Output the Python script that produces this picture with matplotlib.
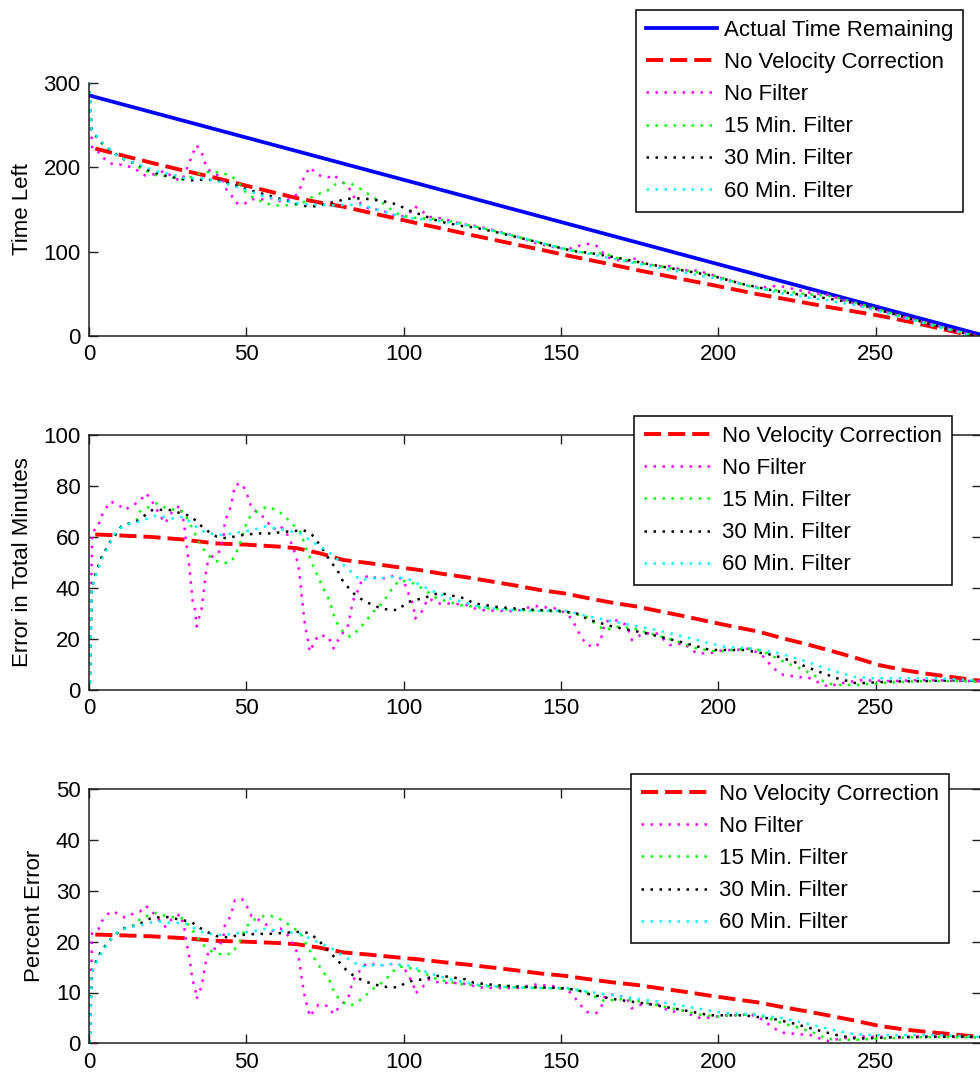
import numpy as np
import matplotlib
matplotlib.use("Agg")
import matplotlib.pyplot as plt

plt.rcParams["font.family"] = ["Liberation Sans", "DejaVu Sans"]

# ---- data -------------------------------------------------------------
# actual remaining trip time (minutes) against elapsed time (minutes)
actual_t = [0, 285]
actual_left = [285, 0]
trip_minutes = 285

# error of each estimator in minutes (actual minus estimated)
novel_t = [2, 10, 20, 30, 40, 50, 60.7, 66, 73.4, 80.8, 89.3, 96.7, 104.7, 112.6, 120,
           129.6, 135.9, 143.3, 151, 159, 166.4, 174.2, 182, 189.7, 197.1, 205, 212.7,
           220.4, 227.9, 235.7, 243.1, 251, 258.9, 266.7, 273.6, 281, 285]
novel_err = [61, 60.6, 60, 59, 57.5, 57, 56.2, 55.6, 53.6, 51, 49.7, 48.4, 47.1, 45.5, 44.2,
             42.2, 40.9, 39.2, 37.9, 35.9, 34.2, 32.7, 30.7, 28.8, 26.8, 24.8, 22.9,
             20.3, 18.0, 15.4, 12.8, 9.8, 7.8, 6.3, 5.2, 3.9, 3.6]

nofilt_t = [0, 1, 3, 3.5, 5.1, 6.7, 9, 11.4, 13.8, 16.2, 17.8, 19.2, 21, 22.8, 24.2, 26.1,
            29, 30.2, 31.1, 31.9, 32.9, 33.7, 34.2, 35.8, 36.5, 37.2, 37.7, 39.5, 41.1,
            42.7, 43.2, 44.5, 45.3, 46.4, 48.6, 49.6, 50.7, 51.7, 53.3, 55.9, 58.5, 60.7,
            62.8, 64, 65.5, 66.5, 67.1, 67.6, 68.2, 68.7, 69.8, 70.1, 72.9, 76.1, 77.7,
            79.8, 82.4, 83.5, 84.5, 85.6, 86.7, 88.8, 91.4, 94.6, 97.2, 99.9, 101.5, 103.1,
            103.6, 105.7, 107.8, 111.5, 115.8, 120, 123.7, 130, 136, 141.4, 148, 152,
            153.9, 155.5, 158.1, 161.3, 162.9, 164, 167.2, 170.9, 172.5, 176.2, 180.4,
            184.7, 188.9, 193.1, 197.4, 201.6, 205.9, 210.1, 214.3, 217.5, 220.7, 225,
            229.2, 232.4, 235, 238.7, 245, 255, 265, 275, 285]
nofilt_err = [-15, 62, 64, 67.3, 70.6, 73.9, 73, 70.6, 72.5, 73.9, 77.1, 75.8, 71.9, 68, 65.4, 69.3,
              72.5, 65.4, 55.5, 48.4, 35.3, 31.4, 24.9, 31.9, 39, 46.4, 49.9, 52.9, 53.5,
              59.3, 66.5, 69.8, 73.3, 80.4, 81, 78.4, 75.2, 71.2, 69.9, 67.3, 63, 64.5,
              61.5, 58.5, 53.6, 49, 43, 36.6, 30, 24.8, 18.3, 15, 21.6, 20.9, 16.3,
              20.9, 25.5, 32.7, 37.3, 39.2, 43.1, 45, 43.8, 43.8, 45, 43.1, 37.9, 33.3,
              28, 30.7, 35.9, 33.9, 33.9, 33.3, 31.4, 31, 31, 33, 32, 30,
              26.8, 22.9, 17.6, 17, 20.9, 26.8, 27.5, 25.5, 19.6, 22.2, 22.2,
              17.6, 18.3, 14.4, 14.4, 15.7, 15.7, 16.3, 13.1, 8.5, 5.9, 5.2,
              4.6, 2.6, 1.3, 2.6, 3.8, 3.5, 3.9, 3.6, 3.4]

f15_t = [0, 0.85, 2.5, 4, 6.7, 10.2, 13.1, 15.2, 16.2, 21.5, 24.7, 27.3, 30, 32.6, 34.2,
         35.3, 37.4, 39.5, 42.7, 45.3, 46.9, 48, 49.6, 51.2, 53.3, 56.5, 59.7, 61.8, 64.4,
         67.1, 69.2, 71.3, 74, 76.6, 78.2, 80.3, 82.9, 85.6, 88.3, 90.4, 93.6, 96.7, 98.8,
         103.1, 106.8, 110.5, 117.9, 126.4, 135, 145, 152, 158, 162.3, 164, 167.7, 173,
         178.3, 183.6, 188.9, 193.1, 199.5, 204.8, 211.2, 215.4, 220.7, 226, 230.3, 234.5,
         237.7, 244, 255, 265, 275, 285]
f15_err = [-15, 40, 47, 52, 58, 64, 65.5, 66.7, 70, 73.2, 71.2, 70.6, 70, 64, 60.1,
           56.9, 53.6, 51, 49.7, 50.3, 54.2, 57.5, 64.1, 68, 70, 71.9, 70.6, 68.6, 65.4,
           62.1, 54.9, 48.4, 41.2, 34.6, 27.5, 23.5, 20.9, 23.5, 27.5, 30.7, 34.6, 40.5, 43.1,
           41.8, 39.2, 35.9, 33.3, 32, 31.5, 31, 30.5, 28.8, 24.8, 23.5, 24.8, 24.2,
           22.2, 20.3, 18.3, 16.3, 15, 15.7, 16.3, 14.4, 11.1, 8.5, 5.9, 2.6,
           2, 2, 3, 3.5, 3.5, 3.2]

f30_t = [0, 0.85, 2.5, 4, 6.7, 10.2, 13.1, 15.2, 20, 25, 30, 32.6, 35.3, 38, 40.6, 43.8,
         45.9, 49, 53.3, 57.5, 62.8, 68.2, 70.9, 73.4, 76.8, 78.9, 80.5, 82.6, 84.6, 87.8,
         90.5, 92.6, 95.8, 98.4, 100.6, 103.2, 106.3, 109, 111.6, 114.3, 116.9, 119.6,
         122.2, 130, 140, 150, 155, 159, 166.6, 177.2, 187.9, 197.4, 208, 217.5, 223.9,
         229.2, 233.4, 237.7, 244, 254.6, 265, 275, 285]
f30_err = [-15, 40, 47, 52, 58, 64, 65.5, 66.2, 70.5, 70.8, 69, 68, 64.7, 62.1, 60.1, 59.5,
           60.1, 60.8, 61.4, 61.4, 62.1, 62.7, 60.8, 56.9, 50.3, 47.1, 43.1, 39.9, 37.3, 34.6,
           33.3, 32, 31.4, 31.4, 34, 35.3, 35.9, 37.3, 38, 37.3, 36.6, 35.9,
           34, 32.5, 31.5, 31, 30, 27.5, 24.8, 22.2, 18.9, 15.7, 15.7, 13.7, 11.1,
           8.5, 6.5, 4.6, 2.6, 3.3, 3.5, 3.8, 3.5]

f60_t = [0, 0.85, 2.5, 4, 5.3, 6.7, 8.1, 10.2, 13.1, 15.7, 18.7, 21.5, 23.6, 26.8, 29.8,
         32.1, 35.3, 38, 42.2, 45.4, 48.6, 51.7, 56, 62.4, 67.1, 70.9, 76.8, 82.1, 86.3,
         90, 92.6, 95.8, 101.1, 104.3, 107.4, 110.6, 114.8, 118.5, 123.8, 132, 142, 152,
         159, 169.8, 180.4, 191, 201.6, 210.1, 219.6, 228.1, 235.6, 243, 249.3, 260, 270, 285]
f60_err = [-15, 40, 46, 51, 54.3, 57.5, 61.2, 63.7, 65.4, 66, 67.3, 68.6, 68, 67.3, 68,
           66, 62.7, 61.4, 60.8, 61.4, 62, 62.7, 64.1, 62.7, 61.4, 58.2, 53.6, 47.7, 43.1,
           43.8, 43.8, 44.4, 43.8, 41.8, 39.9, 38, 35.9, 34.6, 32.7, 31.5, 31, 31,
           28.8, 26.1, 23.5, 20.3, 17, 16.3, 14.4, 11.1, 7.8, 5.2, 4.6, 4.6, 4.6, 3.5]

labels = ["Actual Time Remaining", "No Velocity Correction", "No Filter",
          "15 Min. Filter", "30 Min. Filter", "60 Min. Filter"]
colors = ["#0000ff", "#ff0000", "#ff00ff", "#00ff00", "#000000", "#00ffff"]

estimators = [(novel_t, novel_err), (nofilt_t, nofilt_err), (f15_t, f15_err),
              (f30_t, f30_err), (f60_t, f60_err)]

# ---- figure -----------------------------------------------------------
W, H = 980, 1072
fig = plt.figure(figsize=(W / 100, H / 100), dpi=100)

x0_px, px_per_min, xmax = 89, 3.1467, 283.5
left = x0_px / W
width = xmax * px_per_min / W


def add_axes(bottom_px, height_px):
    return fig.add_axes([left, (H - bottom_px) / H, width, height_px / H])


ax1 = add_axes(336, 253.3)
ax2 = add_axes(690, 255)
ax3 = add_axes(1043.3, 254)

dash_style = (0, (4.4, 1.8))
dot_style = (0, (1.0, 2.6))


def style_line(i):
    if i == 0:
        return dict(color=colors[0], lw=2.7, ls="-")
    if i == 1:
        return dict(color=colors[1], lw=2.8, ls=dash_style)
    return dict(color=colors[i], lw=1.8, ls=dot_style)


# top: estimated time left
ax1.plot(actual_t, actual_left, label=labels[0], **style_line(0))
for i, (t, e) in enumerate(estimators, start=1):
    t = np.asarray(t, float)
    est = np.interp(t, actual_t, actual_left) - np.asarray(e, float)
    ax1.plot(t, est, label=labels[i], **style_line(i))

# middle: error in minutes; bottom: error as percent of trip time
for i, (t, e) in enumerate(estimators, start=1):
    e = np.asarray(e, float)
    ax2.plot(t, e, label=labels[i], **style_line(i))
    ax3.plot(t, e / trip_minutes * 100, label=labels[i], **style_line(i))

ax1.set_ylim(0, 300)
ax1.set_yticks([0, 100, 200, 300])
ax2.set_ylim(0, 100)
ax2.set_yticks(range(0, 101, 20))
ax3.set_ylim(0, 50)
ax3.set_yticks(range(0, 51, 10))

for ax in (ax1, ax2, ax3):
    ax.set_xlim(0, xmax)
    ax.set_xticks(range(0, 251, 50))
    for sp in ax.spines.values():
        sp.set_linewidth(1.1)
        sp.set_color("#202020")
    ax.tick_params(direction="in", length=6.8, width=1.0, labelsize=16,
                   color="#202020", pad=6, top=True, right=True)

ax1.spines["top"].set_visible(False)
ax1.spines["right"].set_visible(False)
ax1.tick_params(top=False, right=False)

ax1.set_ylabel("Time Left", fontsize=16)
ax2.set_ylabel("Error in Total Minutes", fontsize=16)
ax3.set_ylabel("Percent Error", fontsize=16)
ax1.yaxis.set_label_coords(-0.0627, 0.5)
ax2.yaxis.set_label_coords(-0.0627, 0.5)
ax3.yaxis.set_label_coords(-0.0495, 0.5)

legend_anchor_px = [(ax1, 636, 10), (ax2, 634, 416), (ax3, 631, 774)]
for ax, lx, ly in legend_anchor_px:
    leg = ax.legend(loc="upper left", bbox_to_anchor=(lx / W, 1 - ly / H),
                    bbox_transform=fig.transFigure, fontsize=16, fancybox=False,
                    framealpha=1, edgecolor="black", borderaxespad=0,
                    handlelength=3.2, handletextpad=0.3, labelspacing=0.5,
                    borderpad=0.45)
    leg.get_frame().set_linewidth(1.1)

fig.savefig("out.png", dpi=100)
